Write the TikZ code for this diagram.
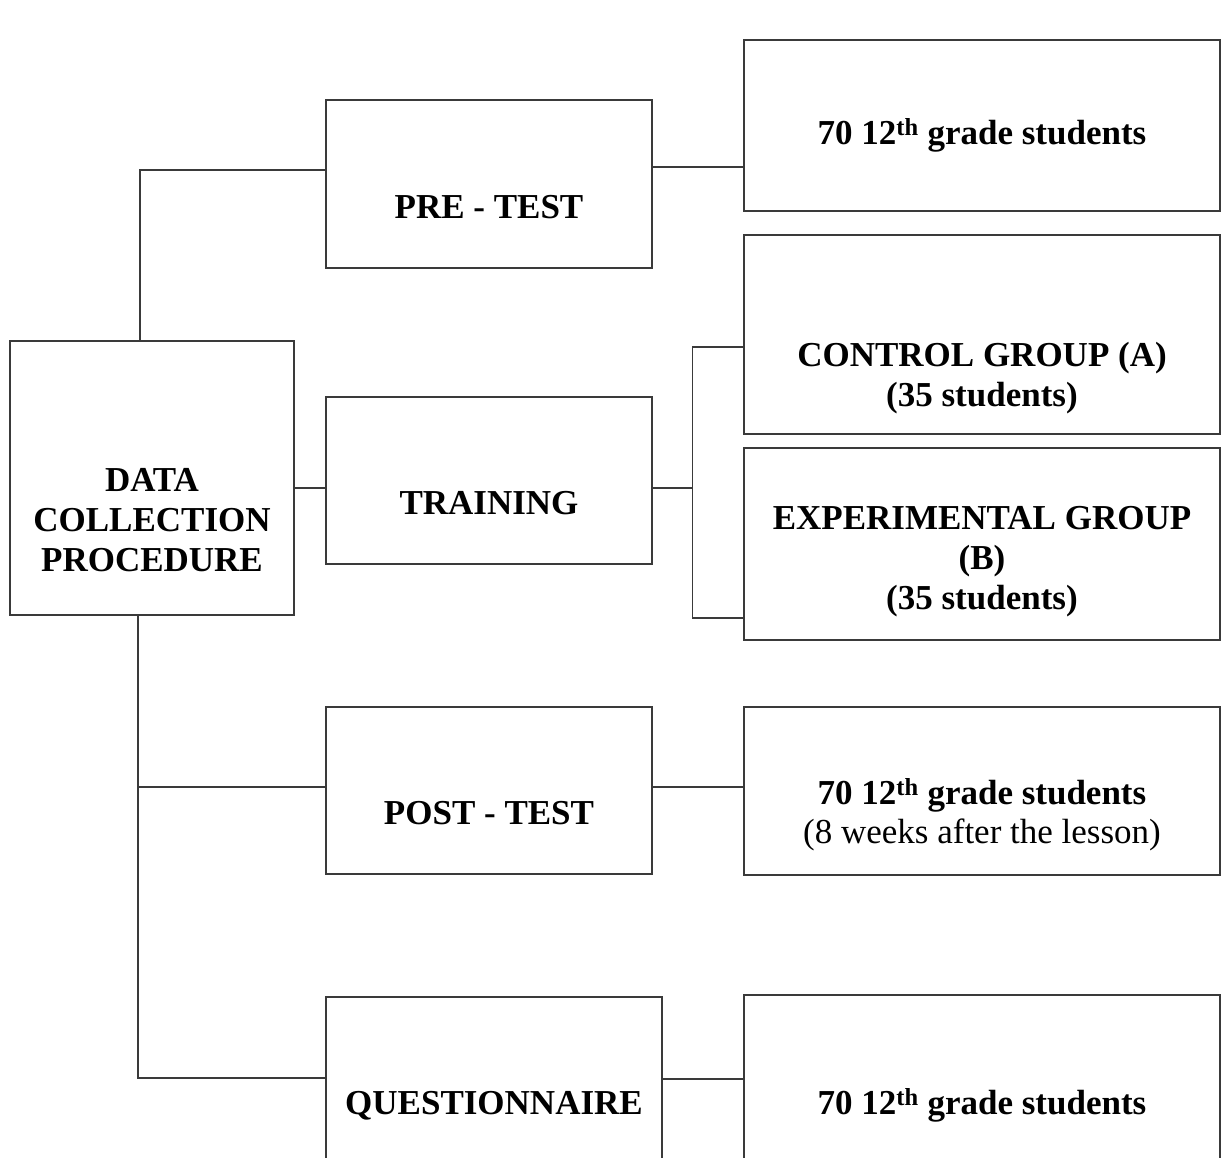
\documentclass[tikz,border=0pt]{standalone}
\usepackage{fontspec}
\setmainfont{Liberation Serif}
\usetikzlibrary{calc}
\definecolor{edge}{HTML}{3A3A3A}
\definecolor{ink}{HTML}{000000}
\tikzset{
  box/.style={draw=edge, line width=1.3pt, rectangle, inner sep=0pt},
  conn/.style={draw=edge, line width=1.3pt, line cap=rect},
  lab/.style={text=ink, font=\fontsize{35}{40}\selectfont\bfseries, align=center, inner sep=0pt, anchor=base},
  labn/.style={text=ink, font=\fontsize{35}{39}\selectfont, align=center, inner sep=0pt, anchor=base},
}
\begin{document}
\begin{tikzpicture}[x=1pt,y=-1pt]
  \useasboundingbox (0,0) rectangle (1225,1158);
  % boxes: name/x/y/width/height
  \foreach \N/\X/\Y/\W/\H in {proc/152/478/284/274, pre/489/184/326/168,
      train/489/480.5/326/167, post/489/790.5/326/167, quest/494/1081/336/168,
      all70/982/125.5/476/171, ctrl/982/334.5/476/199, exper/982/544/476/192,
      post70/982/791/476/168, quest70/982/1079/476/168}
    \node[box, minimum width=\W, minimum height=\H] (\N) at (\X,\Y) {};
  % texts (base = last line)
  \node[lab] (procT) at ([yshift=-231pt]proc.north) {DATA\\COLLECTION\\PROCEDURE};
  \node[lab] (preT) at ([yshift=-119pt]pre.north) {PRE - TEST};
  \node[lab] (trainT) at ([yshift=-118pt]train.north) {TRAINING};
  \node[lab] (postT) at ([yshift=-118pt]post.north) {POST - TEST};
  \node[lab] (questT) at ([yshift=-118pt]quest.north) {QUESTIONNAIRE};
  \node[lab] (all70T) at ([yshift=-105pt]all70.north) {70 12\textsuperscript{th} grade students};
  \node[lab] (ctrlT) at ([yshift=-172pt]ctrl.north) {CONTROL GROUP (A)\\(35 students)};
  \node[lab] (experT) at ([yshift=-162pt]exper.north) {EXPERIMENTAL GROUP\\(B)\\(35 students)};
  \node[labn] (post70T) at ([yshift=-137pt]post70.north)
    {\textbf{70 12\textsuperscript{th} grade students}\\(8 weeks after the lesson)};
  \node[lab] (quest70T) at ([yshift=-120pt]quest70.north) {70 12\textsuperscript{th} grade students};
  % connectors
  \draw[conn] ([xshift=-12pt]proc.north) |- ([yshift=14pt]pre.west);
  \draw[conn] ([yshift=-10pt]proc.east) -| (train.west);
  \draw[conn] ([xshift=-14pt]proc.south) |- ([yshift=3pt]quest.west);
  \draw[conn] ([yshift=3.5pt]post.west) -| ([xshift=-14pt]proc.south);
  \draw[conn] ([yshift=17pt]pre.east) -| (all70.west);
  \draw[conn] ([yshift=-7.5pt]train.east) -- ++(40,0) coordinate (fork);
  \draw[conn] ([yshift=-12.5pt]ctrl.west) -| (fork) |- ([yshift=-74pt]exper.west);
  \draw[conn] ([yshift=3.5pt]post.east) -| (post70.west);
  \draw[conn] ([yshift=2pt]quest.east) -| (quest70.west);
\end{tikzpicture}
\end{document}
